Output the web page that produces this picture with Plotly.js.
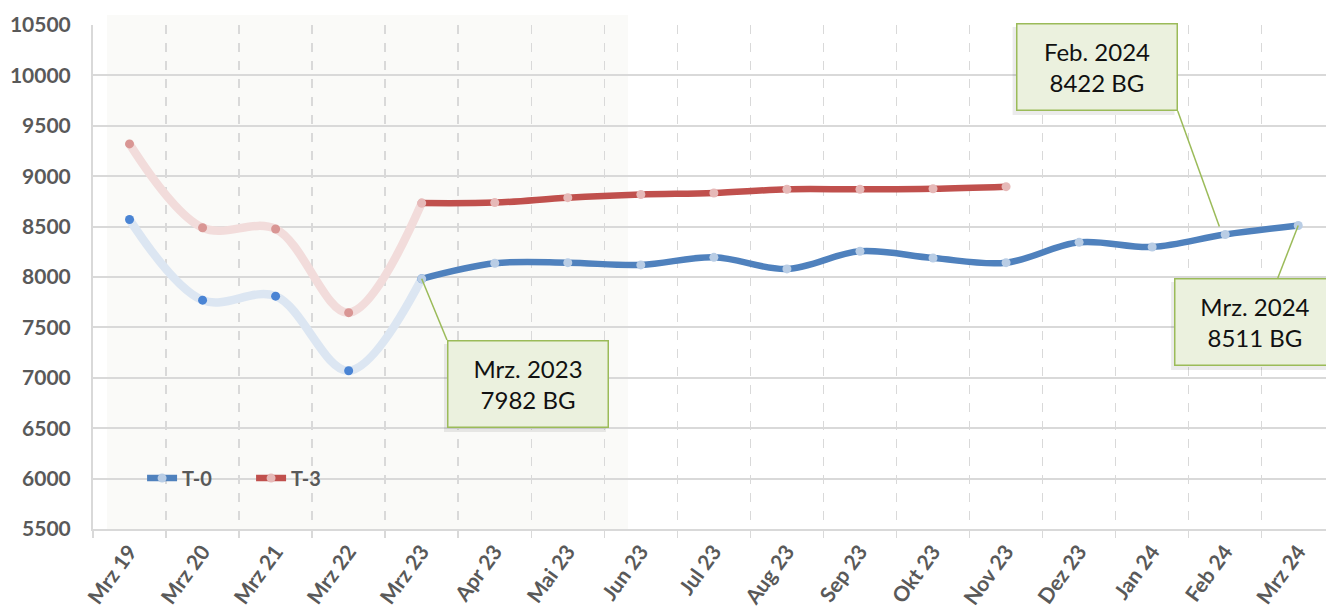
<!DOCTYPE html>
<html>
<head>
<meta charset="utf-8">
<script src="https://cdn.plot.ly/plotly-3.0.1.min.js"></script>
<style>html,body{margin:0;padding:0;background:#fff;overflow:hidden}</style>
</head>
<body>
<div id="chart" style="width:1326px;height:608px"></div>
<script>
var months = ['Mrz 19','Mrz 20','Mrz 21','Mrz 22','Mrz 23','Apr 23','Mai 23','Jun 23','Jul 23','Aug 23','Sep 23','Okt 23','Nov 23','Dez 23','Jan 24','Feb 24','Mrz 24'];
var t0 = [8570, 7770, 7810, 7070, 7982, 8136, 8142, 8120, 8195, 8080, 8255, 8188, 8142, 8344, 8298, 8422, 8511];
var t3 = [9320, 8489, 8476, 7646, 8733, 8738, 8787, 8818, 8833, 8870, 8870, 8876, 8896];
var callouts = [
  {label: 'Mrz. 2023', idx: 4},
  {label: 'Feb. 2024', idx: 15},
  {label: 'Mrz. 2024', idx: 16}
];
var histCount = 5; // Mrz 19 .. Mrz 23 drawn faded

var cBlue = '#4f81bd', cRed = '#c0504d';
var paleBlue = '#b9cde5', palePink = '#e6b9b8';
var fadeBlue = '#dce6f2', fadePink = '#f2dcdb';
var dotBlue = '#4a84d4', dotRed = '#d99694';

function fadedTrace(y, lineCol, dotCol, paleCol) {
  var n = histCount;
  var cols = [];
  for (var i = 0; i < n; i++) { cols.push(i < n - 1 ? dotCol : paleCol); }
  return {
    x: months.slice(0, n), y: y.slice(0, n), type: 'scatter', mode: 'lines+markers',
    line: {color: lineCol, width: 8.5, shape: 'spline', smoothing: 1},
    marker: {color: cols, size: 9, line: {width: 0}},
    showlegend: false, hoverinfo: 'skip'
  };
}
function solidTrace(y, name, lineCol, paleCol) {
  var s = histCount - 1;
  return {
    x: months.slice(s, y.length), y: y.slice(s), type: 'scatter', mode: 'lines+markers', name: name,
    line: {color: lineCol, width: 6.5, shape: 'spline', smoothing: 1},
    marker: {color: paleCol, size: 9, line: {width: 0}}
  };
}

var data = [
  fadedTrace(t0, fadeBlue, dotBlue, dotBlue),
  fadedTrace(t3, fadePink, dotRed, palePink),
  solidTrace(t0, 'T-0', cBlue, paleBlue),
  solidTrace(t3, 'T-3', cRed, palePink)
];
data[2].legendrank = 1; data[3].legendrank = 2;

// callout box geometry: box corner (bx,by) with anchors, leader attach point (lx,ly)
var boxes = [
  {bx: 4.346, by: 7375, xa: 'left', ya: 'top', lx: 4.346, ly: 7375},
  {bx: 12.13, by: 9647, xa: 'left', ya: 'bottom', lx: 14.35, ly: 9647, ex: 14.92, ey: 8500},
  {bx: 14.30, by: 7990, xa: 'left', ya: 'top', lx: 15.72, ly: 7990}
];
var pxX = 1 / 73.06, pxY = 1 / 0.1008; // one pixel in category / data units
var boxW = 162, boxH = 88;
var annotations = [], shapes = [];
shapes.push({type: 'rect', xref: 'paper', yref: 'paper', x0: 0.0114, x1: 0.434, y0: 0, y1: 1.0198,
  fillcolor: '#fafaf8', line: {width: 0}, layer: 'below'});
callouts.forEach(function (c, k) {
  var b = boxes[k];
  var val = t0[c.idx];
  var endX = b.ex !== undefined ? b.ex : c.idx;
  var endY = b.ey !== undefined ? b.ey : val;
  shapes.push({type: 'line', xref: 'x', yref: 'y', x0: endX, y0: endY, x1: b.lx, y1: b.ly,
    line: {color: '#9bbb59', width: 1.5}, layer: 'above'});
  var top = b.ya === 'top' ? b.by : b.by + boxH * pxY;
  var x0 = b.bx - 3 * pxX, x1 = b.bx + (boxW - 3) * pxX;
  var y0 = top - 4 * pxY, y1 = top - (boxH + 4) * pxY;
  shapes.push({type: 'rect', xref: 'x', yref: 'y', x0: x0, x1: x1, y0: y0, y1: y1,
    fillcolor: 'rgba(0,0,0,0.08)', line: {width: 0}, layer: 'above'});
  annotations.push({
    xref: 'x', yref: 'y', x: b.bx, y: b.by, xanchor: b.xa, yanchor: b.ya,
    text: c.label + '<br>' + val + ' BG', showarrow: false,
    font: {family: 'Lato', size: 24, color: '#111'},
    align: 'center', valign: 'middle',
    bgcolor: '#ebf1de', bordercolor: '#9bbb59', borderwidth: 1.5, borderpad: 1,
    width: boxW - 5, height: boxH - 5
  });
});

var layout = {
  width: 1326, height: 608,
  margin: {l: 93, r: 0, t: 25, b: 79, pad: 0},
  paper_bgcolor: '#ffffff', plot_bgcolor: 'rgba(0,0,0,0)',
  showlegend: true,
  legend: {orientation: 'h', x: 0.0398, xanchor: 'left', y: 0.101, yanchor: 'middle',
    bgcolor: 'rgba(0,0,0,0)', font: {family: 'Lato', size: 20, color: '#595959', weight: 'bold'},
    entrywidth: 64, entrywidthmode: 'pixels'},
  xaxis: {
    type: 'category', categoryorder: 'array', categoryarray: months,
    range: [-0.5, 16.38], tickson: 'boundaries',
    showgrid: true, gridcolor: '#d9d9d9', gridwidth: 1.5, griddash: 'dash',
    ticks: 'outside', ticklen: 7, tickcolor: '#d9d9d9', tickwidth: 1.5,
    showline: true, linecolor: '#d9d9d9', linewidth: 2,
    tickangle: -54, tickfont: {family: 'Lato', size: 21, color: '#595959', weight: 'bold'},
    fixedrange: true
  },
  yaxis: {
    range: [5500, 10500], dtick: 500, tick0: 5500, tickformat: 'd',
    showgrid: true, gridcolor: '#d9d9d9', gridwidth: 2, zeroline: false,
    showline: true, linecolor: '#d9d9d9', linewidth: 2,
    ticks: '', ticklabelstandoff: 16,
    tickfont: {family: 'Lato', size: 21, color: '#595959', weight: 'bold'},
    fixedrange: true
  },
  shapes: shapes,
  annotations: annotations
};

Plotly.newPlot('chart', data, layout, {displayModeBar: false, staticPlot: true});
</script>
</body>
</html>
